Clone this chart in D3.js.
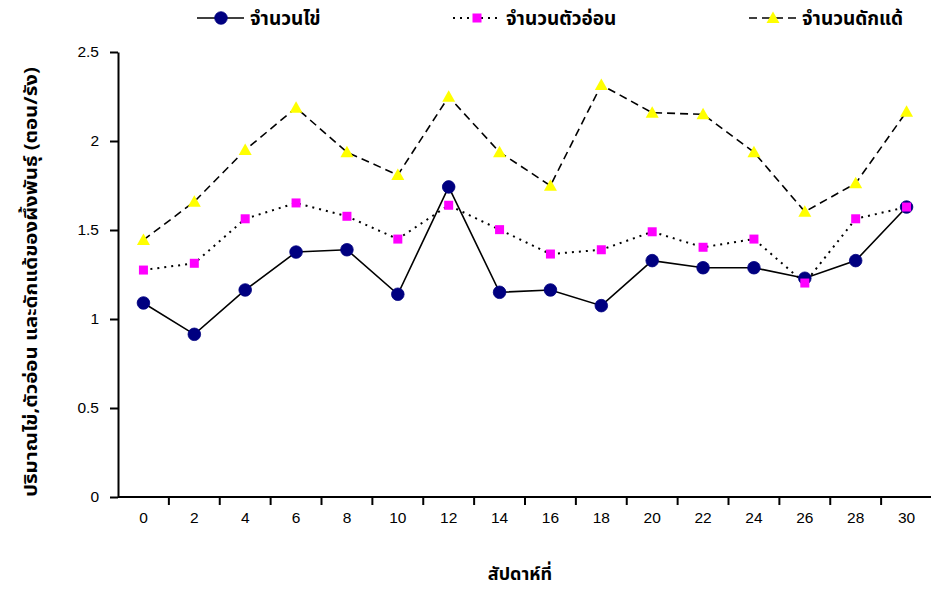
<!DOCTYPE html>
<html>
<head>
<meta charset="utf-8">
<script src="https://cdn.jsdelivr.net/npm/d3@7/dist/d3.min.js"></script>
<style>
  html, body { margin: 0; padding: 0; background: #fff; }
  svg { display: block; }
  .thai { font-family: "Noto Sans Thai", "Noto Sans", "DejaVu Sans", sans-serif; font-weight: bold; fill: #000; }
  .tick text, .xlabels text { font-family: "Liberation Sans", Arial, sans-serif; font-size: 15.5px; fill: #000; }
</style>
</head>
<body>
<svg id="chart" width="931" height="590"></svg>
<script>
// Sampling weeks
const weeks = ["0","2","4","6","8","10","12","14","16","18","20","22","24","26","28","30"];

// Counts per nest for each life stage
const eggs   = [1.09, 0.914, 1.163, 1.376, 1.389, 1.139, 1.742, 1.150, 1.163, 1.075, 1.328, 1.288, 1.288, 1.229, 1.328, 1.629];
const larvae = [1.275, 1.313, 1.563, 1.652, 1.577, 1.449, 1.639, 1.502, 1.365, 1.389, 1.490, 1.403, 1.449, 1.202, 1.563, 1.629];
const pupae  = [1.444, 1.659, 1.949, 2.187, 1.937, 1.809, 2.249, 1.937, 1.749, 2.315, 2.159, 2.150, 1.937, 1.603, 1.762, 2.165];

const yTicks = [0, 0.5, 1, 1.5, 2, 2.5];

const seriesNames = ["จำนวนไข่", "จำนวนตัวอ่อน", "จำนวนดักแด้"];

const series = [
  { name: seriesNames[0], values: eggs,   dash: null,  marker: "circle",   fill: "#000080", legendX: 197 },
  { name: seriesNames[1], values: larvae, dash: "2,5", marker: "square",   fill: "#ff00ff", legendX: 453 },
  { name: seriesNames[2], values: pupae,  dash: "8,5", marker: "triangle", fill: "#ffff00", legendX: 749 }
];

const svg = d3.select("#chart");
const plotLeft = 118, plotRight = 932, plotTop = 52, plotBottom = 497;

const x = d3.scaleBand().domain(weeks).range([plotLeft, plotRight]);
const y = d3.scaleLinear().domain([0, 2.5]).range([plotBottom, plotTop]);

// Y axis
const yAxis = svg.append("g")
  .attr("transform", `translate(${plotLeft},0)`)
  .call(d3.axisLeft(y).tickValues(yTicks).tickFormat(d3.format("")).tickSize(8).tickSizeOuter(0).tickPadding(11));
yAxis.attr("font-size", null).attr("font-family", null);
yAxis.select(".domain").attr("stroke", "#000").attr("stroke-width", 2);
yAxis.selectAll(".tick line").attr("stroke", "#000").attr("stroke-width", 2);

// X axis: ticks sit on category boundaries, labels centred in each band
const xAxis = svg.append("g").attr("transform", `translate(0,${plotBottom})`);
xAxis.append("line")
  .attr("x1", plotLeft).attr("x2", plotRight).attr("y1", 0).attr("y2", 0)
  .attr("stroke", "#000").attr("stroke-width", 2);
xAxis.selectAll("line.bound")
  .data(weeks.slice(1))
  .enter().append("line")
  .attr("class", "bound")
  .attr("x1", d => x(d)).attr("x2", d => x(d))
  .attr("y1", 0).attr("y2", 8)
  .attr("stroke", "#000").attr("stroke-width", 2);
xAxis.append("g").attr("class", "xlabels").selectAll("text")
  .data(weeks)
  .enter().append("text")
  .attr("x", d => x(d) + x.bandwidth() / 2)
  .attr("y", 26)
  .attr("text-anchor", "middle")
  .text(d => d);

// Axis titles
svg.append("text")
  .attr("class", "thai")
  .attr("x", 520).attr("y", 580)
  .attr("text-anchor", "middle")
  .attr("font-size", 18)
  .text("สัปดาห์ที่");

svg.append("text")
  .attr("class", "thai")
  .attr("transform", "translate(37,282) rotate(-90)")
  .attr("text-anchor", "middle")
  .attr("font-size", 18)
  .attr("textLength", 430)
  .attr("lengthAdjust", "spacingAndGlyphs")
  .text("ปริมาณไข่,ตัวอ่อน และดักแด้ของผึ้งพันธุ์ (ตอน/รัง)");

const cx = i => x(weeks[i]) + x.bandwidth() / 2;

function drawMarker(g, type, fill) {
  if (type === "circle") {
    g.append("circle").attr("r", 6.3).attr("fill", fill).attr("stroke", "#000080").attr("stroke-width", 0.8);
  } else if (type === "square") {
    g.append("rect").attr("x", -4.5).attr("y", -4.5).attr("width", 9).attr("height", 9).attr("fill", fill);
  } else {
    g.append("path").attr("d", "M0,-6.5L6.5,5L-6.5,5Z").attr("fill", fill);
  }
}

const line = d3.line().x((d, i) => cx(i)).y(d => y(d));

// Draw pupae first so eggs sit on top
[...series].reverse().forEach(s => {
  svg.append("path")
    .datum(s.values)
    .attr("fill", "none")
    .attr("stroke", "#000")
    .attr("stroke-width", s.dash === "2,5" ? 2 : 1.6)
    .attr("stroke-dasharray", s.dash)
    .attr("d", line);
});
series.forEach(s => {
  s.values.forEach((v, i) => {
    const g = svg.append("g").attr("transform", `translate(${cx(i)},${y(v)})`);
    drawMarker(g, s.marker, s.fill);
  });
});

// Legend
const legend = svg.append("g");
series.forEach(s => {
  const ly = 18;
  legend.append("line")
    .attr("x1", s.legendX).attr("x2", s.legendX + 47)
    .attr("y1", ly).attr("y2", ly)
    .attr("stroke", "#000").attr("stroke-width", s.dash === "2,5" ? 2 : 1.6)
    .attr("stroke-dasharray", s.dash);
  const g = legend.append("g").attr("transform", `translate(${s.legendX + 24},${ly})`);
  drawMarker(g, s.marker, s.fill);
  legend.append("text")
    .attr("class", "thai")
    .attr("x", s.legendX + 53).attr("y", ly + 7)
    .attr("font-size", 19)
    .text(s.name);
});
</script>
</body>
</html>
